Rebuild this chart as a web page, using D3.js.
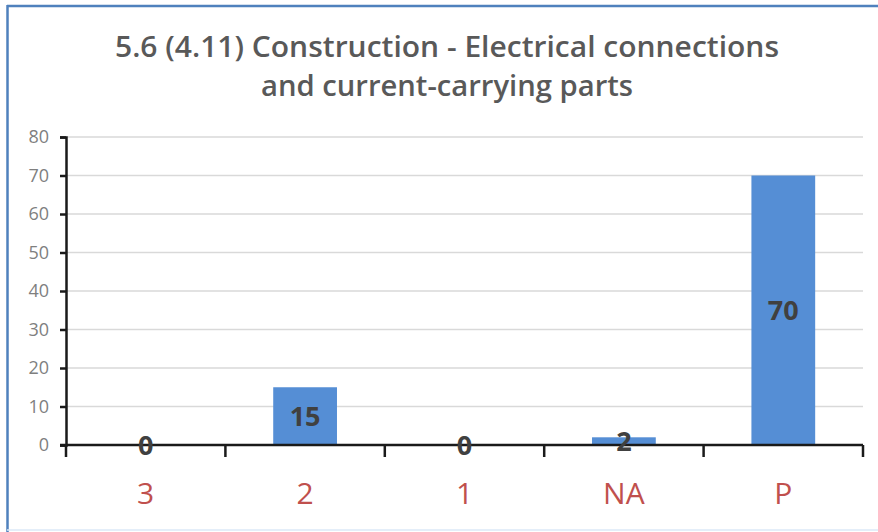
<!DOCTYPE html>
<html><head><meta charset="utf-8">
<script src="https://cdn.jsdelivr.net/npm/d3@7"></script>
<style>body{margin:0;background:#fff;} svg{display:block;}</style>
</head><body>
<script>
const categories = ["3", "2", "1", "NA", "P"];
const values = [0, 15, 0, 2, 70];
const yTicks = [0, 10, 20, 30, 40, 50, 60, 70, 80];
const titleLines = ["5.6 (4.11) Construction - Electrical connections", "and current-carrying parts"];

const W = 878, H = 532;
const svg = d3.select("body").append("svg").attr("width", W).attr("height", H);
svg.append("rect").attr("x",0).attr("y",0).attr("width",W).attr("height",H).attr("fill","#fff");
// frame
svg.append("line").attr("x1",7).attr("x2",W).attr("y1",6).attr("y2",6).attr("stroke","#4f81bd").attr("stroke-width",2.5);
svg.append("line").attr("x1",7.5).attr("x2",7.5).attr("y1",5).attr("y2",H).attr("stroke","#4f81bd").attr("stroke-width",2.5);
svg.append("line").attr("x1",7).attr("x2",W).attr("y1",530).attr("y2",530).attr("stroke","#dbe9f7").attr("stroke-width",1.5);

const font = "'Open Sans', sans-serif";
const t = svg.append("text").attr("text-anchor","middle").attr("font-family",font)
  .attr("font-weight",600).attr("font-size",28).attr("fill","#595959");
t.selectAll("tspan").data(titleLines).join("tspan")
  .attr("x",447).attr("y",(d,i)=>57+i*39).text(d=>d);
t.selectAll("tspan").each(function(d,i){ d3.select(this).attr("textLength", i===0?664:372).attr("lengthAdjust","spacingAndGlyphs"); });

const x0 = 66, x1 = 863, yTop = 137, yBot = 445;
const x = d3.scaleBand().domain(categories).range([x0, x1]).paddingInner(0.6).paddingOuter(0.3);
const xb = d3.scaleBand().domain(categories).range([x0, x1]);
const y = d3.scaleLinear().domain([0, 80]).range([yBot, yTop]);

// grid
svg.append("g").selectAll("line").data(yTicks.filter(d=>d>0)).join("line")
  .attr("x1",x0).attr("x2",x1).attr("y1",d=>y(d)).attr("y2",d=>y(d))
  .attr("stroke","#d9d9d9").attr("stroke-width",1.5);

// bars
svg.append("g").selectAll("rect").data(values).join("rect")
  .attr("x",(d,i)=>x(categories[i])).attr("width",x.bandwidth())
  .attr("y",d=>y(d)).attr("height",d=>yBot-y(d)).attr("fill","#558ed5");

// y axis
const yAxis = svg.append("g").attr("transform",`translate(${x0},0)`)
  .call(d3.axisLeft(y).tickValues(yTicks).tickSize(6).tickPadding(11));
yAxis.select(".domain").attr("stroke","#1a1a1a").attr("stroke-width",2.5);
yAxis.selectAll(".tick line").attr("stroke","#1a1a1a").attr("stroke-width",2.5);
yAxis.selectAll("text").attr("fill","#7f7f7f").style("font-family",font).style("font-size","18px");

// x axis
const xAxis = svg.append("g").attr("transform",`translate(0,${yBot})`)
  .call(d3.axisBottom(xb).tickSize(0).tickPadding(38));
xAxis.select(".domain").remove();
svg.append("line").attr("x1",x0-6).attr("x2",x1).attr("y1",yBot).attr("y2",yBot).attr("stroke","#1a1a1a").attr("stroke-width",2.5);
const edges = categories.map(c=>xb(c)).concat([x1]);
svg.append("g").selectAll("line").data(edges).join("line")
  .attr("x1",d=>d).attr("x2",d=>d).attr("y1",yBot).attr("y2",yBot+12)
  .attr("stroke","#1a1a1a").attr("stroke-width",2.5);
xAxis.selectAll("text").attr("fill","#c0504d").style("font-family",font).style("font-size","30px");

// data labels
svg.append("g").selectAll("text").data(values).join("text")
  .attr("x",(d,i)=>x(categories[i])+x.bandwidth()/2)
  .attr("y",d=>(y(d)+yBot)/2).attr("dy","0.36em")
  .attr("text-anchor","middle").attr("font-family",font).attr("font-weight","bold")
  .attr("font-size",27).attr("fill","#404040").text(d=>d);
</script>
</body></html>
